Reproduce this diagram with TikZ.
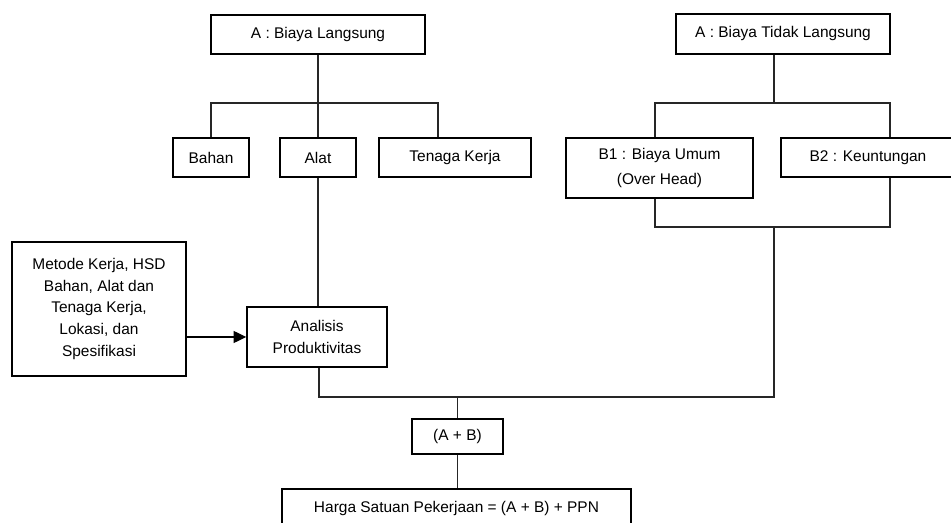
\documentclass[tikz,border=0pt]{standalone}
\usepackage{fontspec}
\setmainfont{Liberation Sans}
\usetikzlibrary{arrows.meta,positioning,calc}

\begin{document}
\begin{tikzpicture}[
  x=0.025cm, y=-0.025cm,
  % Box — thin black frame, size set per node
  bx/.style  = {draw=black, line width=1pt, inner sep=0pt,
                align=center, font=\fontsize{11}{15.5}\selectfont},
  % Plain connector
  ln/.style  = {draw=black!85, line width=0.9pt},
  % Input arrow
  arr/.style = {-{Triangle[length=9pt,width=8.5pt]}, line width=0.9pt}
]
\useasboundingbox (0,0) rectangle (951,523);
\clip (0,0) rectangle (951,523);

% Top level
\node[bx, minimum width=214*0.025cm, minimum height=39*0.025cm](BL)  at (318,34.5){A : Biaya Langsung};
\node[bx, minimum width=214*0.025cm, minimum height=40*0.025cm](BTL) at (783,34){A : Biaya Tidak Langsung};

% Second level
\node[bx, minimum width=76*0.025cm,  minimum height=39*0.025cm](BHN) at (211,157.5){Bahan};
\node[bx, minimum width=76*0.025cm,  minimum height=39*0.025cm](ALT) at (318,157.5){Alat};
\node[bx, minimum width=152*0.025cm, minimum height=39*0.025cm](TK)  at (455,157.5){Tenaga Kerja};
\node[bx, minimum width=187*0.025cm, minimum height=60*0.025cm](B1)  at (659.5,168){B1 : Biaya Umum\\[2.4pt](Over Head)};
\node[bx, minimum width=174*0.025cm, minimum height=39*0.025cm](B2)  at (868,157.5){B2 : Keuntungan};

% Analysis
\node[bx, minimum width=174*0.025cm, minimum height=134*0.025cm](MK) at (99,309)
  {Metode Kerja, HSD\\Bahan, Alat dan\\Tenaga Kerja,\\Lokasi, dan\\Spesifikasi};
\node[bx, minimum width=140*0.025cm, minimum height=60*0.025cm](AP) at (317,337){Analisis\\Produktivitas};

% Result
\node[bx, minimum width=91*0.025cm,  minimum height=35*0.025cm](AB) at (457.5,436.5){(A + B)};
\node[bx, minimum width=349*0.025cm, minimum height=38*0.025cm](HS) at (456.5,508){Harga Satuan Pekerjaan = (A + B) + PPN};

% Bus points
\coordinate(LB1) at (211,103);
\coordinate(LB2) at (438,103);
\coordinate(RB1) at (655,103);
\coordinate(RB2) at (890,103);
\coordinate(RB3) at (774,103);
\coordinate(RL1) at (655,227);
\coordinate(RL2) at (890,227);
\coordinate(RL3) at (774,227);
\coordinate(BB1) at (319,397);
\coordinate(BB2) at (774,397);

% Direct costs tree
\draw[ln](BL.south)--(ALT.north);
\draw[ln](BHN.north)--(LB1)--(LB2)--(LB2 |- TK.north);

% Indirect costs tree
\draw[ln](BTL.south -| RB3)--(RB3);
\draw[ln](RB1 |- B1.north)--(RB1)--(RB2)--(RB2 |- B2.north);
\draw[ln](RL1 |- B1.south)--(RL1)--(RL2)--(RL2 |- B2.south);

% Productivity analysis
\draw[ln](ALT.south)--(ALT.south |- AP.north);
\draw[arr](MK.east |- AP.west)--(AP.west);

% Join A and B
\draw[ln](BB1 |- AP.south)--(BB1)--(BB2)--(RL3);
\draw[ln](AB.north |- BB1)--(AB.north);
\draw[ln](AB.south)--(AB.south |- HS.north);

\end{tikzpicture}
\end{document}
